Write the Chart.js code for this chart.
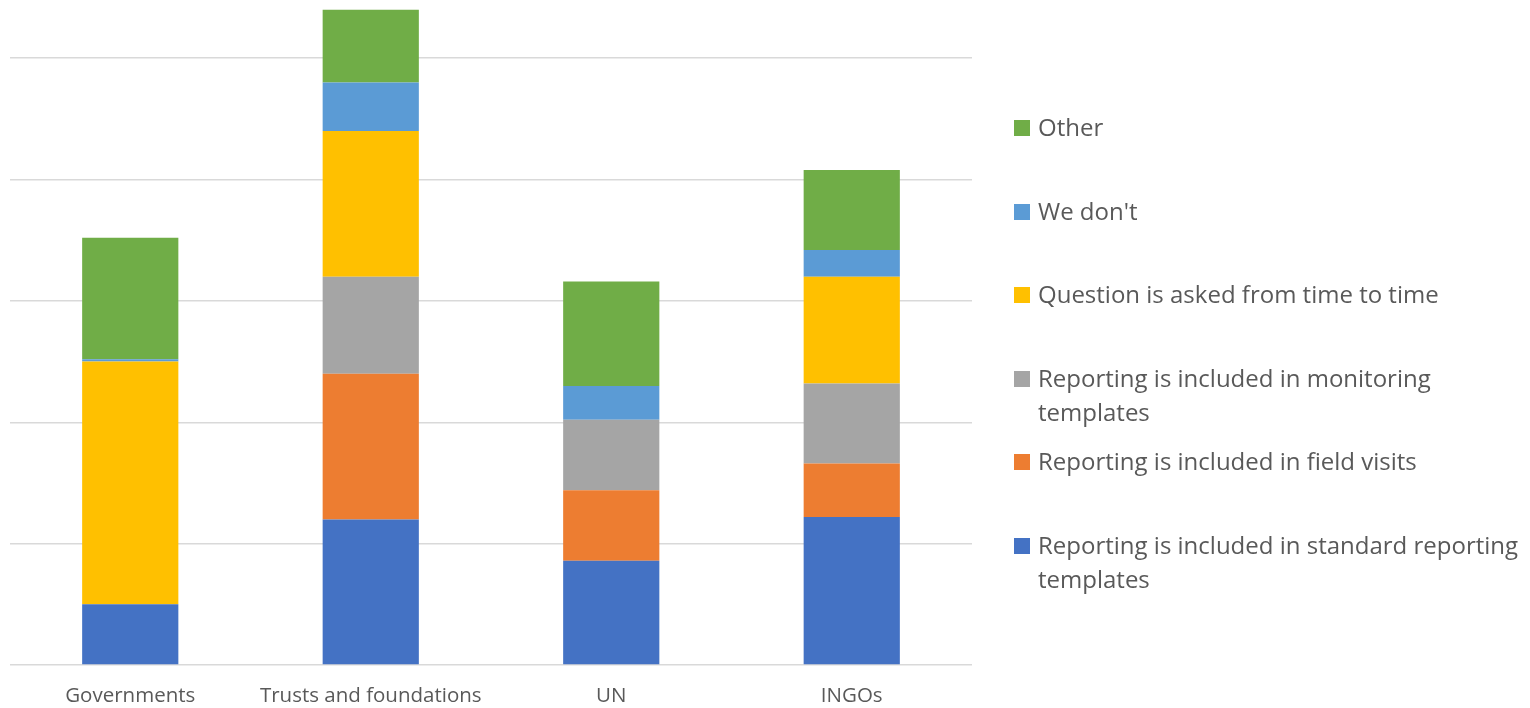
<!DOCTYPE html>
<html>
<head>
<meta charset="utf-8">
<script src="https://cdn.jsdelivr.net/npm/chart.js@4"></script>
<style>
    body { margin: 0; background: #fff; }
    #wrap { position: relative; width: 1530px; height: 708px; }
    #legend { position: absolute; left: 1014px; top: 0; font-family: "Open Sans", sans-serif; color: #595959; }
    .item { position: absolute; left: 0; display: flex; }
    .swatch { width: 16px; height: 16px; margin-top: 10px; flex: none; }
    .text { margin-left: 8px; font-size: 24px; line-height: 34px; white-space: pre; }
</style>
</head>
<body>
<div id="wrap">
    <canvas id="chart" width="1530" height="708"></canvas>
    <div id="legend"></div>
</div>
<script>
const categories = ["Governments", "Trusts and foundations", "UN", "INGOs"];

// valores por serie, de abajo hacia arriba en la pila
const standardTemplates = [5, 12, 8.6, 12.2];
const fieldVisits = [0, 12, 5.8, 4.4];
const monitoringTemplates = [0, 8, 5.8, 6.6];
const askedSometimes = [20, 12, 0, 8.8];
const weDont = [0.2, 4, 2.8, 2.2];
const other = [10, 6, 8.6, 6.6];

const seriesNames = [
    "Reporting is included in standard reporting\ntemplates",
    "Reporting is included in field visits",
    "Reporting is included in monitoring\ntemplates",
    "Question is asked from time to time",
    "We don't",
    "Other"
];
const seriesColors = ["#4472C4", "#ED7D31", "#A5A5A5", "#FFC000", "#5B9BD5", "#70AD47"];
const seriesValues = [standardTemplates, fieldVisits, monitoringTemplates, askedSometimes, weDont, other];

const datasets = seriesValues.map((values, i) => ({
    label: seriesNames[i],
    data: values,
    backgroundColor: seriesColors[i],
    borderWidth: 0,
    barPercentage: 0.4,
    categoryPercentage: 1
}));

const ctx = document.getElementById("chart").getContext("2d");

new Chart(ctx, {
    type: "bar",
    data: { labels: categories, datasets: datasets },
    options: {
        responsive: false,
        animation: false,
        layout: { padding: { left: 10, right: 558, top: 0, bottom: 0 } },
        plugins: {
            legend: { display: false },
            tooltip: { enabled: false }
        },
        scales: {
            x: {
                stacked: true,
                grid: { display: false, drawTicks: false },
                border: { display: false },
                ticks: {
                    color: "#595959",
                    font: { family: "Open Sans", size: 20.5 },
                    padding: 19,
                    maxRotation: 0
                },
                afterFit: (axis) => { axis.height = 43; }
            },
            y: {
                stacked: true,
                min: 0,
                max: 54.8,
                border: { display: false },
                ticks: { display: false, stepSize: 10 },
                grid: {
                    drawTicks: false,
                    lineWidth: 1.5,
                    // solo las líneas de múltiplos de 10
                    color: (c) => (c.tick && c.tick.value % 10 === 0) ? "#D9D9D9" : "rgba(0,0,0,0)"
                },
                afterFit: (axis) => { axis.width = 0; }
            }
        }
    }
});

// leyenda en orden inverso, como la pila
const legend = document.getElementById("legend");
for (let i = seriesNames.length - 1, row = 0; i >= 0; i--, row++) {
    const item = document.createElement("div");
    item.className = "item";
    item.style.top = (110 + row * 83.5) + "px";
    item.innerHTML = `<div class="swatch" style="background:${seriesColors[i]}"></div><div class="text"></div>`;
    item.querySelector(".text").textContent = seriesNames[i];
    legend.appendChild(item);
}
</script>
</body>
</html>
